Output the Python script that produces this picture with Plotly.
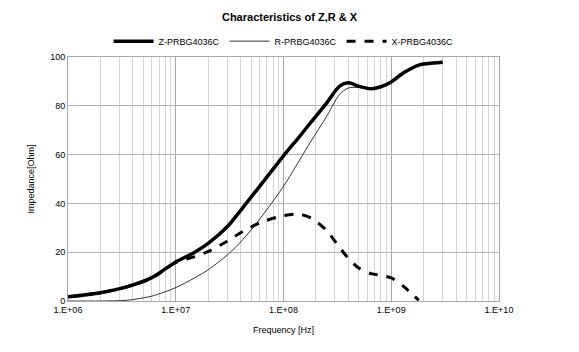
import plotly.graph_objects as go

freq = [1e6, 2e6, 3.5e6, 6e6, 1e7, 1.5e7, 2e7, 3e7, 4.2e7, 6e7, 1e8, 1.4e8, 1.8e8,
        2.5e8, 3.3e8, 4e8, 5e8, 6.5e8, 8e8, 1e9, 1.3e9, 1.8e9, 2.2e9, 3e9]
z_vals = [1.7, 3.4, 5.8, 9.6, 16.0, 20.0, 23.6, 30.4, 38.3, 47.0, 59.5, 67.3, 73.3,
          81.0, 88.0, 89.4, 88.0, 87.0, 87.8, 89.8, 93.5, 96.7, 97.3, 97.8]
r_vals = [0.0, 0.0, 0.3, 2.0, 5.5, 9.5, 12.8, 18.8, 25.2, 33.5, 47.0, 57.5, 65.5,
          75.5, 84.5, 87.3, 87.5, 86.8, 87.6, 89.6, 93.3, 96.5, 97.1, 97.6]
x_vals = [1.7, 3.4, 5.8, 9.4, 15.8, 18.2, 20.3, 24.5, 28.5, 32.0, 35.0, 35.6, 34.0,
          29.0, 22.0, 17.5, 13.5, 11.2, 10.5, 9.5, 6.0, 0.3, None, None]

names = ["Z-PRBG4036C", "R-PRBG4036C", "X-PRBG4036C"]
x_tickvals = [1e6, 1e7, 1e8, 1e9, 1e10]
x_ticktext = ["1.E+06", "1.E+07", "1.E+08", "1.E+09", "1.E+10"]
minor_vals = [m * 10 ** e for e in range(6, 10) for m in range(2, 10)]

fig = go.Figure()
fig.add_trace(go.Scatter(x=freq, y=z_vals, name=names[0], mode="lines",
                         line=dict(color="black", width=3.5, shape="spline", smoothing=0.8)))
fig.add_trace(go.Scatter(x=freq, y=r_vals, name=names[1], mode="lines",
                         line=dict(color="black", width=0.8, shape="spline", smoothing=0.8)))
fig.add_trace(go.Scatter(x=freq, y=x_vals, name=names[2], mode="lines",
                         line=dict(color="black", width=3, dash="dash", shape="spline", smoothing=0.8)))

fig.update_layout(
    width=579, height=352,
    margin=dict(l=68, r=80, t=57, b=51),
    paper_bgcolor="white", plot_bgcolor="white",
    font=dict(family="Arial", size=9, color="black"),
    title=dict(text="<b>Characteristics of Z,R &amp; X</b>", x=0.5, xanchor="center",
               y=0.95, yanchor="middle", font=dict(size=11)),
    showlegend=True,
    legend=dict(orientation="h", x=0.5, xanchor="center", y=1.065, yanchor="middle",
                font=dict(size=9), bgcolor="rgba(0,0,0,0)", itemwidth=40,
                tracegroupgap=0),
    xaxis=dict(type="log", range=[6, 10], tickvals=x_tickvals, ticktext=x_ticktext,
               showgrid=True, gridcolor="#a8a8a8", gridwidth=1,
               minor=dict(tickvals=minor_vals, showgrid=True, gridcolor="#d4d4d4", gridwidth=1),
               showline=True, linecolor="#a8a8a8", mirror=True, ticks="",
               zeroline=False,
               title=dict(text="Frequency [Hz]", font=dict(size=9), standoff=12)),
    yaxis=dict(range=[0, 100], tickvals=[0, 20, 40, 60, 80, 100],
               showgrid=True, gridcolor="#b4b4b4", gridwidth=1,
               showline=True, linecolor="#a8a8a8", mirror=True, ticks="",
               zeroline=False,
               title=dict(text="Impedance[Ohm]", font=dict(size=9), standoff=14)),
)

fig.write_html("out.html")
